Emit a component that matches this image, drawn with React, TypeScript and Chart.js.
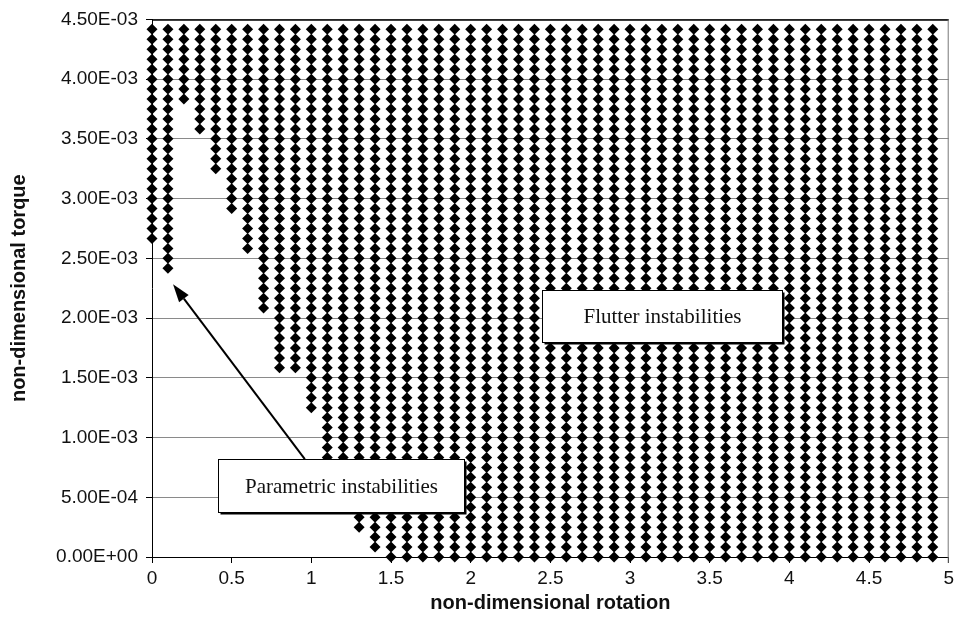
import React, { useEffect, useRef } from "react";
import { Chart, registerables } from "chart.js";

Chart.register(...registerables);

// Rotation columns (non-dimensional rotation)
const rotationValues = [
  0, 0.1, 0.2, 0.3, 0.4, 0.5, 0.6, 0.7, 0.8, 0.9,
  1.0, 1.1, 1.2, 1.3, 1.4, 1.5, 1.6, 1.7, 1.8, 1.9,
  2.0, 2.1, 2.2, 2.3, 2.4, 2.5, 2.6, 2.7, 2.8, 2.9,
  3.0, 3.1, 3.2, 3.3, 3.4, 3.5, 3.6, 3.7, 3.8, 3.9,
  4.0, 4.1, 4.2, 4.3, 4.4, 4.5, 4.6, 4.7, 4.8, 4.9,
];

// Torque levels sampled (non-dimensional torque)
const torqueLevels = [
  0, 8.333e-5, 1.6667e-4, 2.5e-4, 3.3333e-4, 4.1667e-4, 5.0e-4, 5.8333e-4, 6.6667e-4, 7.5e-4,
  8.3333e-4, 9.1667e-4, 1.0e-3, 1.08333e-3, 1.16667e-3, 1.25e-3, 1.33333e-3, 1.41667e-3, 1.5e-3, 1.58333e-3,
  1.66667e-3, 1.75e-3, 1.83333e-3, 1.91667e-3, 2.0e-3, 2.08333e-3, 2.16667e-3, 2.25e-3, 2.33333e-3, 2.41667e-3,
  2.5e-3, 2.58333e-3, 2.66667e-3, 2.75e-3, 2.83333e-3, 2.91667e-3, 3.0e-3, 3.08333e-3, 3.16667e-3, 3.25e-3,
  3.33333e-3, 3.41667e-3, 3.5e-3, 3.58333e-3, 3.66667e-3, 3.75e-3, 3.83333e-3, 3.91667e-3, 4.0e-3, 4.08333e-3,
  4.16667e-3, 4.25e-3, 4.33333e-3, 4.41667e-3,
];

// Lowest torque at which an instability point is marked, per rotation column
const lowestUnstableTorque = [
  2.66667e-3, 2.41667e-3, 3.83333e-3, 3.58333e-3, 3.25e-3, 2.91667e-3, 2.58333e-3, 2.08333e-3, 1.58333e-3, 1.58333e-3,
  1.25e-3, 7.5e-4, 5.0e-4, 2.5e-4, 8.333e-5, 0, 0, 0, 0, 0,
  0, 0, 0, 0, 0, 0, 0, 0, 0, 0,
  0, 0, 0, 0, 0, 0, 0, 0, 0, 0,
  0, 0, 0, 0, 0, 0, 0, 0, 0, 0,
];

const xTitle = "non-dimensional rotation";
const yTitle = "non-dimensional torque";
const flutterLabel = "Flutter instabilities";
const parametricLabel = "Parametric instabilities";

const SANS = "'Liberation Sans', Arial, sans-serif";
const SERIF = "'Liberation Serif', 'Times New Roman', serif";

function formatSci(v: number): string {
  if (Math.abs(v) < 1e-12) return "0.00E+00";
  const [m, e] = v.toExponential(2).split("e");
  const n = parseInt(e, 10);
  return m + "E" + (n < 0 ? "-" : "+") + String(Math.abs(n)).padStart(2, "0");
}

const annotationPlugin = {
  id: "instabilityAnnotations",
  afterDatasetsDraw(chart: any) {
    const { ctx, scales, chartArea } = chart;
    const xs = scales.x;
    const ys = scales.y;
    ctx.save();
    // frame: top and right
    ctx.strokeStyle = "#000";
    ctx.lineWidth = 1.5;
    ctx.beginPath();
    ctx.moveTo(chartArea.left, chartArea.top + 0.5);
    ctx.lineTo(chartArea.right, chartArea.top + 0.5);
    ctx.stroke();
    ctx.strokeStyle = "#777";
    ctx.lineWidth = 1;
    ctx.beginPath();
    ctx.moveTo(chartArea.right - 0.5, chartArea.top);
    ctx.lineTo(chartArea.right - 0.5, chartArea.bottom + 6);
    ctx.stroke();

    const box = (x0: number, x1: number, y0: number, y1: number, text: string) => {
      const l = Math.round(xs.getPixelForValue(x0)) + 0.5;
      const r = Math.round(xs.getPixelForValue(x1)) + 0.5;
      const t = Math.round(ys.getPixelForValue(y0)) + 0.5;
      const b = Math.round(ys.getPixelForValue(y1)) + 0.5;
      ctx.fillStyle = "#000";
      ctx.fillRect(l + 2, t + 2, r - l, b - t);
      ctx.fillStyle = "#fff";
      ctx.fillRect(l, t, r - l, b - t);
      ctx.strokeStyle = "#000";
      ctx.lineWidth = 1;
      ctx.strokeRect(l, t, r - l, b - t);
      ctx.fillStyle = "#111";
      ctx.font = `21px ${SERIF}`;
      ctx.textAlign = "center";
      ctx.textBaseline = "middle";
      ctx.fillText(text, (l + r) / 2, (t + b) / 2 + 1);
    };

    // arrow
    const tx = xs.getPixelForValue(0.132);
    const ty = ys.getPixelForValue(2.283e-3);
    const sx = xs.getPixelForValue(0.959);
    const sy = ys.getPixelForValue(8.2e-4);
    const ang = Math.atan2(ty - sy, tx - sx);
    const headLen = 18;
    const headW = 6;
    const bx = tx - headLen * Math.cos(ang);
    const by = ty - headLen * Math.sin(ang);
    ctx.strokeStyle = "#000";
    ctx.lineWidth = 2;
    ctx.beginPath();
    ctx.moveTo(sx, sy);
    ctx.lineTo(bx, by);
    ctx.stroke();
    ctx.fillStyle = "#000";
    ctx.beginPath();
    ctx.moveTo(tx, ty);
    ctx.lineTo(bx + headW * Math.sin(ang), by - headW * Math.cos(ang));
    ctx.lineTo(bx - headW * Math.sin(ang), by + headW * Math.cos(ang));
    ctx.closePath();
    ctx.fill();

    box(2.45, 3.954, 2.233e-3, 1.8e-3, flutterLabel);
    box(0.4135, 1.961, 8.17e-4, 3.75e-4, parametricLabel);
    ctx.restore();
  },
};

export default function App() {
  const canvasRef = useRef<HTMLCanvasElement | null>(null);

  useEffect(() => {
    const canvas = canvasRef.current;
    if (!canvas) return;
    const points: { x: number; y: number }[] = [];
    rotationValues.forEach((rx, i) => {
      torqueLevels.forEach((t) => {
        if (t >= lowestUnstableTorque[i] - 1e-9) points.push({ x: rx, y: t });
      });
    });

    const chart = new Chart(canvas, {
      type: "scatter",
      data: {
        datasets: [
          {
            data: points,
            pointStyle: "rectRot",
            pointRadius: 5.5,
            pointBorderWidth: 0,
            backgroundColor: "#000",
            borderColor: "#000",
            clip: false as any,
          },
        ],
      },
      options: {
        responsive: false,
        animation: false,
        events: [],
        layout: { padding: { top: 17, right: 8, left: 0, bottom: 0 } },
        plugins: { legend: { display: false }, tooltip: { enabled: false } },
        scales: {
          x: {
            type: "linear",
            min: 0,
            max: 5,
            afterFit: (s: any) => {
              s.height = 66;
            },
            ticks: {
              stepSize: 0.5,
              color: "#111",
              font: { family: SANS, size: 19 },
              padding: 4,
              maxRotation: 0,
              callback: (v: any) => String(Math.round(Number(v) * 10) / 10),
            },
            grid: {
              drawOnChartArea: false,
              drawTicks: true,
              tickLength: 6,
              tickColor: "#000",
            },
            border: { color: "#000", width: 1 },
            title: {
              display: true,
              text: xTitle,
              color: "#111",
              font: { family: SANS, size: 20, weight: "bold" },
              padding: { top: 0, bottom: 8 },
            },
          },
          y: {
            type: "linear",
            min: 0,
            max: 4.5e-3,
            afterFit: (s: any) => {
              s.width = 152;
            },
            ticks: {
              stepSize: 5e-4,
              color: "#111",
              font: { family: SANS, size: 19 },
              padding: 8,
              callback: (v: any) => formatSci(Number(v)),
            },
            grid: {
              color: "#8a8a8a",
              lineWidth: 1,
              drawTicks: true,
              tickLength: 6,
              tickColor: "#000",
            },
            border: { color: "#000", width: 1 },
            title: {
              display: true,
              text: yTitle,
              color: "#111",
              font: { family: SANS, size: 20, weight: "bold" },
              padding: { top: 7, bottom: 0 },
            },
          },
        },
      },
      plugins: [annotationPlugin],
    });
    return () => chart.destroy();
  }, []);

  return (
    <div style={{ position: "absolute", left: 0, top: 0, width: 958, height: 623, background: "#fff" }}>
      <canvas ref={canvasRef} width={958} height={623} style={{ width: 958, height: 623, display: "block" }} />
    </div>
  );
}
